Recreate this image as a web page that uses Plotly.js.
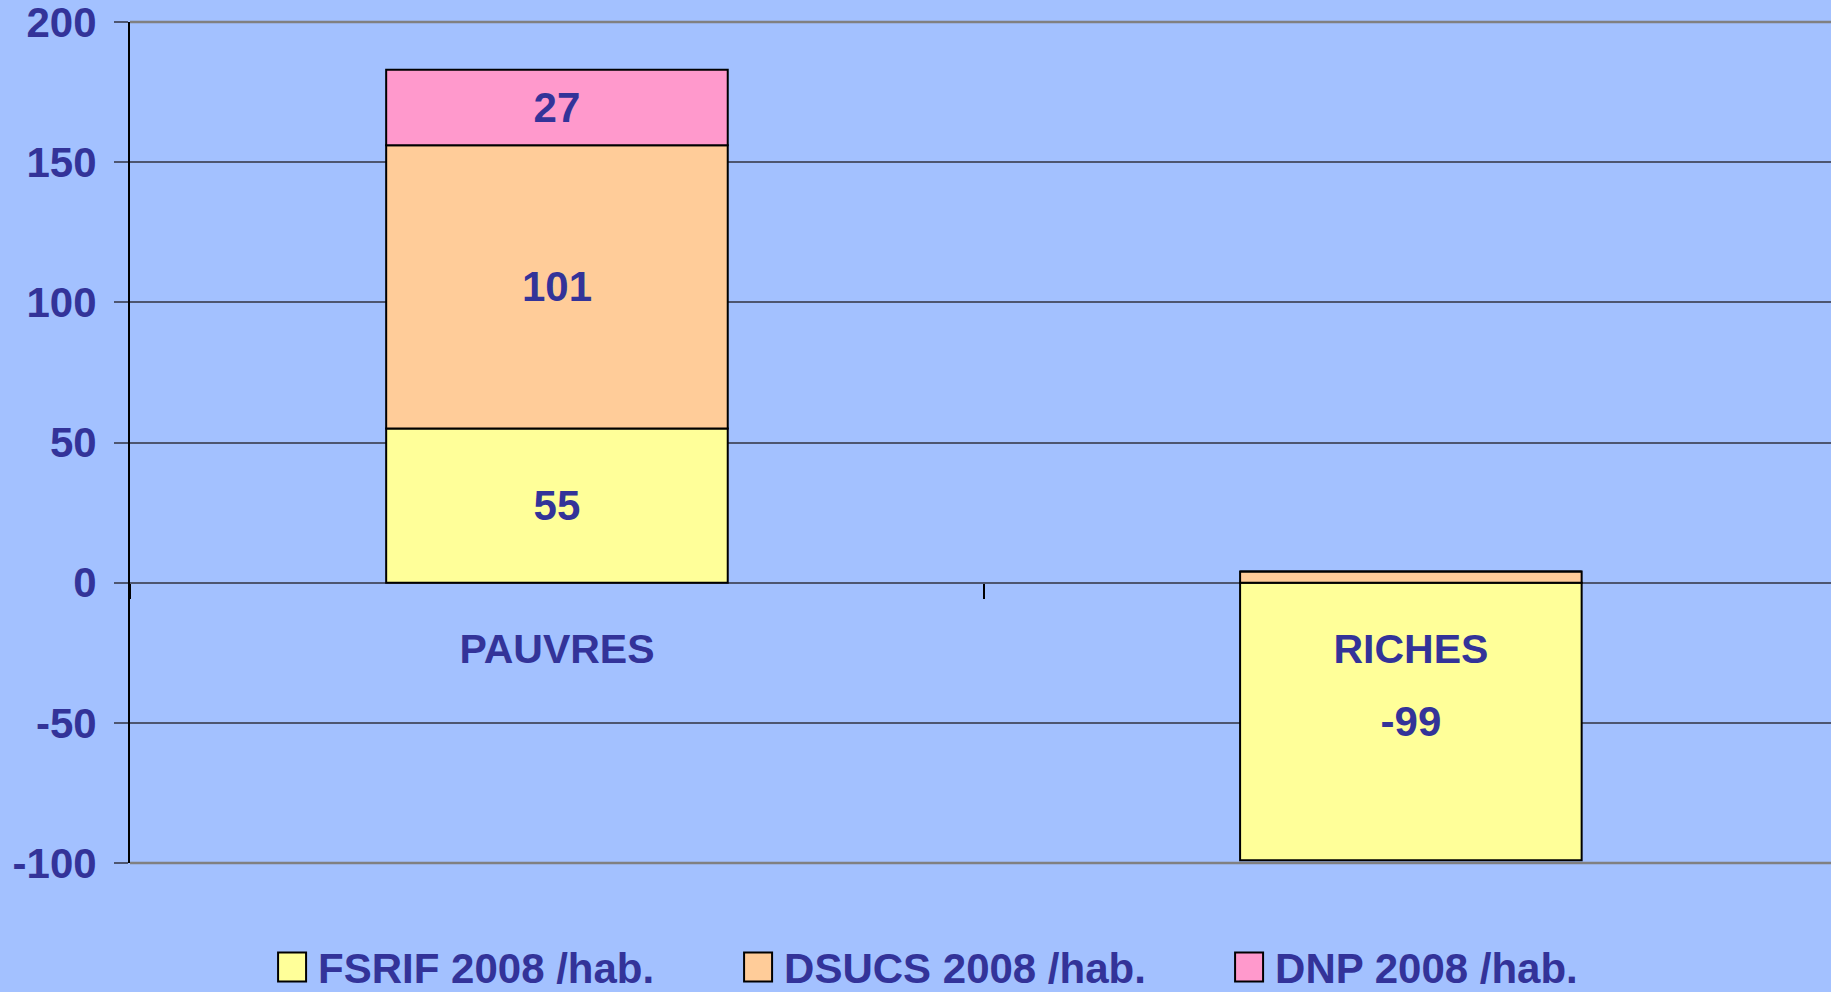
<!DOCTYPE html>
<html>
<head>
<meta charset="utf-8">
<script src="https://cdn.plot.ly/plotly-3.0.1.min.js"></script>
<style>
  html, body { margin: 0; padding: 0; background: #A3C1FF; }
  #chart { width: 1831px; height: 992px; }
</style>
</head>
<body>
<div id="chart"></div>
<script>
// ---- data ----
const categories = ['PAUVRES', 'RICHES'];
const fsrif = [55, -99];
const dsucs = [101, 4];
const dnp = [27, 0];
const seriesNames = ['FSRIF 2008 /hab.', 'DSUCS 2008 /hab.', 'DNP 2008 /hab.'];
const yTickValues = [-100, -50, 0, 50, 100, 150, 200];
const yTickLabels = ['-100', '-50', '0', '50', '100', '150', '200'];

// ---- styling ----
const TEXT_COLOR = '#333399';
const FONT = 'Liberation Sans, Arial, sans-serif';
const BG = '#A3C1FF';
const colors = ['#FFFF99', '#FFCC99', '#FF99CC'];
const legendWidths = [409, 434, 380];

function labels(vals) {
  return vals.map(v => Math.abs(v) >= 10 ? String(v) : '');
}

const seriesValues = [fsrif, dsucs, dnp];
const traces = seriesValues.map((vals, i) => ({
  type: 'bar',
  name: seriesNames[i],
  x: categories,
  y: vals,
  text: labels(vals),
  textposition: 'inside',
  insidetextanchor: 'middle',
  textangle: 0,
  constraintext: 'none',
  textfont: { family: FONT, size: 42, color: TEXT_COLOR, weight: 700 },
  marker: { color: colors[i], line: { color: '#000000', width: 2 } },
  legendwidth: legendWidths[i],
  hoverinfo: 'x+y+name'
}));

const layout = {
  width: 1831,
  height: 992,
  paper_bgcolor: BG,
  plot_bgcolor: BG,
  margin: { l: 130, r: 0, t: 22, b: 129, pad: 0, autoexpand: false },
  barmode: 'relative',
  bargap: 0.6,
  showlegend: true,
  font: { family: FONT, size: 42, color: TEXT_COLOR, weight: 700 },
  xaxis: {
    type: 'category',
    range: [-0.5, 1.492],
    anchor: 'free',
    position: 1 / 3,
    showline: false,
    showgrid: false,
    zeroline: false,
    ticks: 'outside',
    tickson: 'boundaries',
    ticklen: 15,
    tickwidth: 2,
    tickcolor: '#000000',
    ticklabelstandoff: 38,
    tickfont: { family: FONT, size: 41, color: TEXT_COLOR, weight: 700 },
    fixedrange: true
  },
  yaxis: {
    range: [-100, 200],
    tickmode: 'array',
    tickvals: yTickValues,
    ticktext: yTickLabels,
    showline: true,
    linecolor: '#000000',
    linewidth: 2,
    showgrid: true,
    gridcolor: '#4d5670',
    gridwidth: 1.5,
    zeroline: false,
    ticks: 'outside',
    ticklen: 14,
    tickwidth: 1.5,
    tickcolor: '#4d5670',
    ticklabelstandoff: 9,
    ticklabeloverflow: 'allow',
    tickfont: { family: FONT, size: 42, color: TEXT_COLOR, weight: 700 },
    fixedrange: true
  },
  legend: {
    orientation: 'h',
    traceorder: 'normal',
    x: 0.08,
    xanchor: 'left',
    y: -0.124,
    yanchor: 'middle',
    itemwidth: 42,
    bgcolor: 'rgba(0,0,0,0)',
    borderwidth: 0,
    font: { family: FONT, size: 42, color: TEXT_COLOR, weight: 700 }
  },
  shapes: [
    { type: 'line', xref: 'paper', yref: 'paper', x0: 0, x1: 1, y0: 1, y1: 1,
      line: { color: '#808080', width: 2.5 }, layer: 'below' },
    { type: 'line', xref: 'paper', yref: 'paper', x0: 0, x1: 1, y0: 0, y1: 0,
      line: { color: '#808080', width: 2.5 }, layer: 'below' }
  ]
};

Plotly.newPlot('chart', traces, layout, { displayModeBar: false, staticPlot: false })
  .then(function (gd) {
    // enlarge legend swatches to match the reference boxes
    gd.querySelectorAll('.legend .legendpoints path').forEach(function (p) {
      p.setAttribute('d', 'M14,14.5H-14V-14.5H14Z');
    });
  });
</script>
</body>
</html>
